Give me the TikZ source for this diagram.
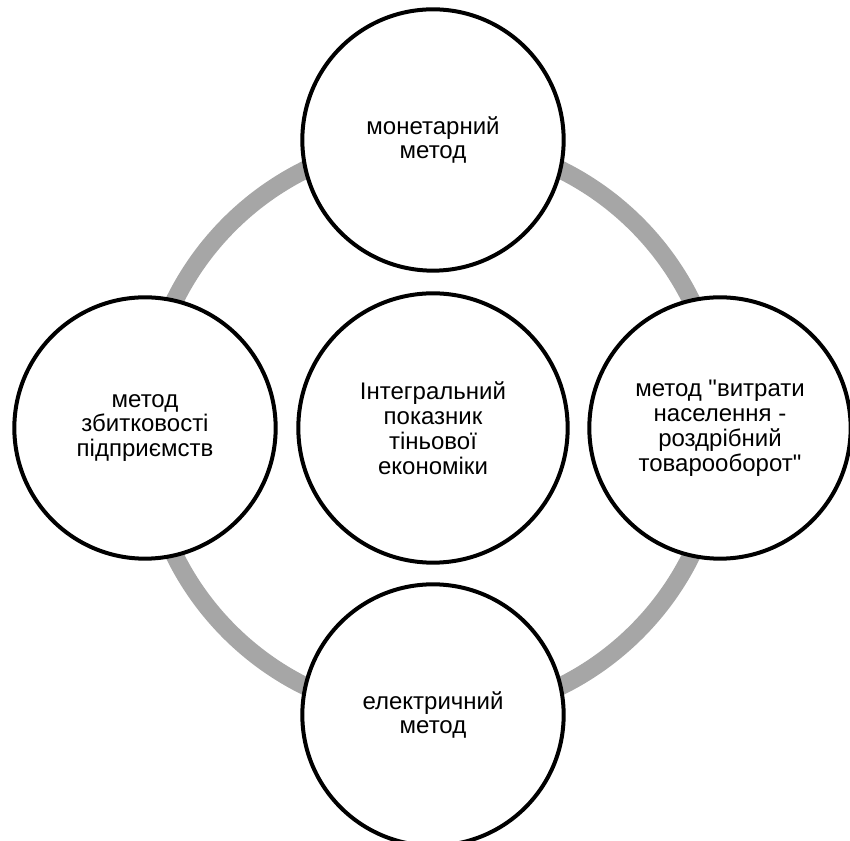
\documentclass[tikz,border=0pt]{standalone}
\usepackage{fontspec}
\setmainfont{Liberation Sans}
\usepackage{tikz}
\definecolor{ringgray}{HTML}{A6A6A6}

\begin{document}
\begin{tikzpicture}[line cap=round,line join=round,x=0.75pt,y=0.75pt,
  method/.style={circle,draw=black,line width=3pt,fill=white,minimum size=196pt,
    inner sep=0pt,align=center,font=\fontsize{18pt}{18.7pt}\selectfont},
  ring/.style={color=ringgray,line width=13.5pt}]
\useasboundingbox (-433,-413) rectangle (417,428);
%kehä taustalle
\draw[ring] (0,0) circle [radius=288];
%keskiympyrä
\node[method,minimum size=202pt] (centre) at (0,0) {Інтегральний\\показник\\тіньової\\економіки};
%menetelmät kehällä
\node[method] (monetary) at (90:288) {монетарний\\метод};
\node[method] (spending) at (0:287) {метод \textquotedbl витрати\\населення -\\роздрібний\\товарооборот\textquotedbl};
\node[method] (electric) at (270:287) {електричний\\метод};
\node[method] (losses) at (180:288) {метод\\збитковості\\підприємств};
\end{tikzpicture}
\end{document}
